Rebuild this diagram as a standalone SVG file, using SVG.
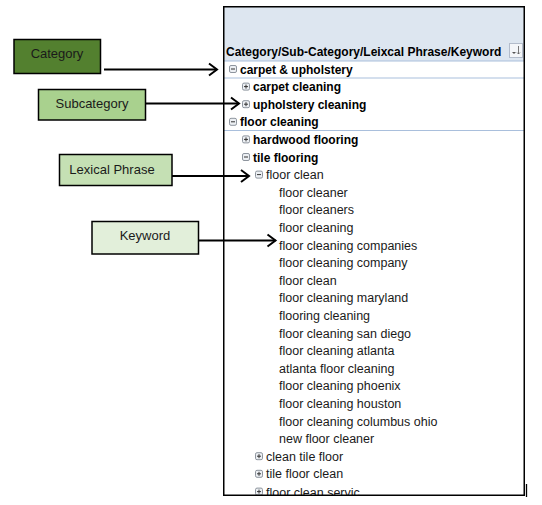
<svg xmlns="http://www.w3.org/2000/svg" width="542" height="505" viewBox="0 0 542 505">
<style>
.lbl{font-family:"Liberation Sans",Arial,sans-serif;font-size:13px;fill:#1a1a1a;text-anchor:middle;dominant-baseline:central}
.box{stroke:#000;stroke-width:1.5}
.hdr{font-family:"Liberation Sans",Arial,sans-serif;font-size:12px;font-weight:bold;fill:#000}
.b{font-family:"Liberation Sans",Arial,sans-serif;font-size:12px;font-weight:bold;fill:#000}
.r{font-family:"Liberation Sans",Arial,sans-serif;font-size:12.5px;fill:#1a1a1a}
.conn{stroke:#000;stroke-width:2;fill:none;marker-end:url(#chev)}
.sep{stroke:#a9bfdc;stroke-width:1}
</style>
<defs>
<marker id="chev" markerUnits="userSpaceOnUse" markerWidth="12" markerHeight="14" refX="9" refY="6" orient="auto" overflow="visible">
<path d="M1,0 L9,6 L1,12" fill="none" stroke="#000" stroke-width="2"/>
</marker>
<g id="minus"><rect x="0.5" y="0.5" width="7" height="7" rx="1.5" fill="#eceff3" stroke="#8e959e" stroke-width="1"/><path d="M2,4 H6" stroke="#333" stroke-width="1"/></g>
<g id="plus"><rect x="0.5" y="0.5" width="7" height="7" rx="1.5" fill="#eceff3" stroke="#8e959e" stroke-width="1"/><path d="M2,4 H6 M4,2 V6" stroke="#333" stroke-width="1"/></g>
<clipPath id="pclip"><rect x="224" y="7" width="300" height="488"/></clipPath>
</defs>

<g id="panel">
<rect x="224" y="7" width="300" height="54" fill="#dde6f0"/>
<line class="sep" x1="224" y1="61" x2="524" y2="61"/>
<line class="sep" x1="224" y1="78" x2="524" y2="78"/>
<line class="sep" x1="224" y1="130.5" x2="524" y2="130.5"/>
<text class="hdr" x="226" y="56">Category/Sub-Category/Leixcal Phrase/Keyword</text>
<g id="filter-btn">
<rect x="509.5" y="43.5" width="13" height="14" fill="#f4f6f9" stroke="#b3bccb" stroke-width="1"/>
<path d="M512,52 L514,54 L516,52 Z" fill="#555"/>
<path d="M518.5,46 V54 M517,52.5 L518.5,54 L520,52.5" stroke="#555" stroke-width="0.8" fill="none"/>
</g>
<g clip-path="url(#pclip)">
<use href="#minus" x="229" y="65"/><text class="b" x="240" y="73.5">carpet &amp; upholstery</text>
<use href="#plus" x="242" y="82.6"/><text class="b" x="253" y="91.1">carpet cleaning</text>
<use href="#plus" x="242" y="100.2"/><text class="b" x="253" y="108.7">upholstery cleaning</text>
<use href="#minus" x="229" y="117.8"/><text class="b" x="240" y="126.3">floor cleaning</text>
<use href="#plus" x="242" y="135.4"/><text class="b" x="253" y="143.9">hardwood flooring</text>
<use href="#minus" x="242" y="153"/><text class="b" x="253" y="161.5">tile flooring</text>
<use href="#minus" x="255" y="170.6"/><text class="r" x="266" y="179.1">floor clean</text>
<text class="r" x="279" y="196.7">floor cleaner</text>
<text class="r" x="279" y="214.3">floor cleaners</text>
<text class="r" x="279" y="231.9">floor cleaning</text>
<text class="r" x="279" y="249.5">floor cleaning companies</text>
<text class="r" x="279" y="267.1">floor cleaning company</text>
<text class="r" x="279" y="284.7">floor clean</text>
<text class="r" x="279" y="302.3">floor cleaning maryland</text>
<text class="r" x="279" y="319.9">flooring cleaning</text>
<text class="r" x="279" y="337.5">floor cleaning san diego</text>
<text class="r" x="279" y="355.1">floor cleaning atlanta</text>
<text class="r" x="279" y="372.7">atlanta floor cleaning</text>
<text class="r" x="279" y="390.3">floor cleaning phoenix</text>
<text class="r" x="279" y="407.9">floor cleaning houston</text>
<text class="r" x="279" y="425.5">floor cleaning columbus ohio</text>
<text class="r" x="279" y="443.1">new floor cleaner</text>
<use href="#plus" x="255" y="452.2"/><text class="r" x="266" y="460.7">clean tile floor</text>
<use href="#plus" x="255" y="469.8"/><text class="r" x="266" y="478.3">tile floor clean</text>
<use href="#plus" x="255" y="487.6"/><text class="r" x="266" y="496.6">floor clean servic</text>
</g>
<rect x="223.75" y="6.75" width="300.5" height="488.5" fill="none" stroke="#000" stroke-width="1.5"/>
<line x1="526.5" y1="484" x2="526.5" y2="497" stroke="#000" stroke-width="1.3"/>
</g>

<g id="category">
<rect class="box" x="14" y="39.5" width="86.5" height="34" fill="#53802f"/>
<text class="lbl" x="57" y="53">Category</text>
</g>
<g id="subcategory">
<rect class="box" x="38.5" y="89.5" width="107" height="30.5" fill="#a9d18e"/>
<text class="lbl" x="92" y="103">Subcategory</text>
</g>
<g id="lexical-phrase">
<rect class="box" x="59.5" y="154.5" width="112.5" height="31" fill="#c5e0b4"/>
<text class="lbl" x="112" y="169">Lexical Phrase</text>
</g>
<g id="keyword">
<rect class="box" x="92" y="221.5" width="106.5" height="32.5" fill="#e2efda"/>
<text class="lbl" x="145" y="235.5">Keyword</text>
</g>

<g id="connectors">
<line class="conn" x1="104" y1="69.5" x2="217" y2="69.5"/>
<line class="conn" x1="145.5" y1="103.5" x2="239" y2="103.5"/>
<line class="conn" x1="172" y1="176" x2="249" y2="176"/>
<line class="conn" x1="198.5" y1="240.5" x2="275.5" y2="240.5"/>
</g>
</svg>
